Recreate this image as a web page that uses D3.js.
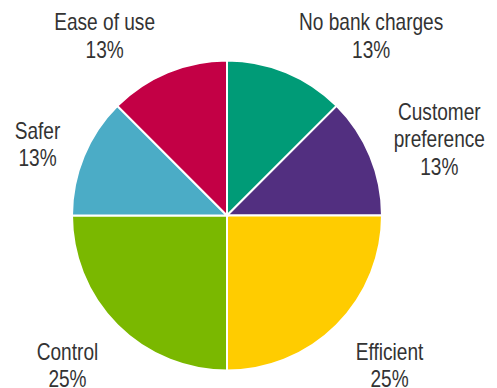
<!DOCTYPE html>
<html>
<head>
<meta charset="utf-8">
<script src="https://cdn.jsdelivr.net/npm/d3@7"></script>
<style>
  html, body { margin: 0; padding: 0; background: #fff; }
  svg { display: block; }
</style>
</head>
<body>
<svg id="chart" width="497" height="388"></svg>
<script>
// Reasons given, clockwise from 12 o'clock
const categories = ["No bank charges", "Customer\npreference", "Efficient", "Control", "Safer", "Ease of use"];
const shares = [12.5, 12.5, 25, 25, 12.5, 12.5];
const colors = ["#009b77", "#522f80", "#ffcc00", "#7ab800", "#4bacc6", "#c30045"];

const W = 497, H = 388;
const cx = 227, cy = 215.5, R = 155;
const fontSize = 23, lineH = 27.5, capH = 16.5, squeeze = 0.83;

const svg = d3.select("#chart");
const total = d3.sum(shares);

const pie = d3.pie().sort(null).value(d => d.value);
const arcs = pie(categories.map((c, i) => ({ name: c, value: shares[i], color: colors[i] })));
const arc = d3.arc().innerRadius(0).outerRadius(R);

const g = svg.append("g").attr("transform", `translate(${cx},${cy})`);
g.selectAll("path")
  .data(arcs)
  .join("path")
  .attr("d", arc)
  .attr("fill", d => d.data.color)
  .attr("stroke", "#fff")
  .attr("stroke-width", 2)
  .attr("stroke-linejoin", "miter");

// Outside labels: name lines + rounded percentage
const labelR = 175, gap = 5, drop = 4;
arcs.forEach(d => {
  const lines = d.data.name.split("\n").concat([Math.round(d.data.value / total * 100) + "%"]);
  const lab = svg.append("g");
  const inner = lab.append("g");
  const texts = inner.selectAll("text")
    .data(lines)
    .join("text")
    .attr("x", 0)
    .attr("y", (t, i) => i * lineH)
    .attr("text-anchor", "middle")
    .attr("font-family", "'Liberation Sans', Arial, sans-serif")
    .attr("font-size", fontSize)
    .attr("fill", "#333")
    .text(t => t);

  let wLocal = 0;
  texts.each(function () { wLocal = Math.max(wLocal, this.getComputedTextLength()); });
  const w = wLocal * squeeze;
  const top = -capH, bottom = (lines.length - 1) * lineH, h = bottom - top;

  const a = (d.startAngle + d.endAngle) / 2;
  const s = Math.sin(a), c = Math.cos(a);
  const px = cx + labelR * s, py = cy - labelR * c;
  const sx = s > 0.05 ? 1 : (s < -0.05 ? -1 : 0);
  const boxX = px + sx * (gap + w / 2);
  const boxY = (Math.abs(c) > 0.6 ? py - Math.sign(c) * h / 2 : py - c * h / 2) + drop;

  lab.attr("transform", `translate(${boxX},${boxY - (top + bottom) / 2})`);
  inner.attr("transform", `scale(${squeeze},1)`);
});
</script>
</body>
</html>
